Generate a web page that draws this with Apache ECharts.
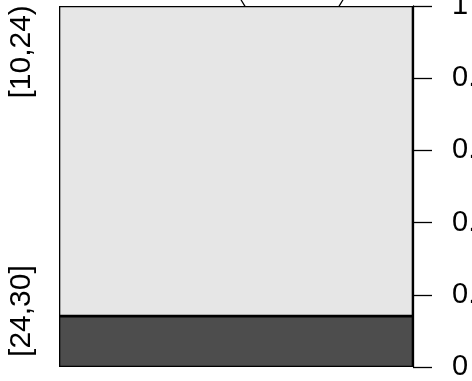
<!DOCTYPE html>
<html><head><meta charset="utf-8">
<script src="https://cdn.jsdelivr.net/npm/echarts@6/dist/echarts.min.js"></script>
<style>html,body{margin:0;padding:0;background:#fff}#c{width:472px;height:381px}</style>
</head><body><div id="c"></div>
<script>
var categories = ['all'];
var groupLabels = ['[24,30]', '[10,24)'];
var groupLabelPos = [0.155, 0.873];
var lowShare = [0.141];
var highShare = [0.859];
var tickValues = [0, 0.2, 0.4, 0.6, 0.8, 1];
var tickLabels = ['0', '0.2', '0.4', '0.6', '0.8', '1'];

var font = "'Liberation Sans', Arial, sans-serif";
var chart = echarts.init(document.getElementById('c'), null, {renderer: 'canvas'});
chart.setOption({
  animation: false,
  backgroundColor: '#ffffff',
  grid: {left: 59, right: 59, top: 6, bottom: 14, containLabel: false, outerBoundsMode: 'none'},
  xAxis: {type: 'category', data: categories, show: false, boundaryGap: true},
  yAxis: [{
    type: 'value', position: 'right', min: 0, max: 1, interval: 0.2,
    axisLine: {show: true, lineStyle: {color: '#000', width: 1.3}},
    axisTick: {show: true, length: 19, lineStyle: {color: '#000', width: 1.3}},
    axisLabel: {margin: 39, color: '#000', fontSize: 29, fontFamily: font,
      formatter: function (v) { var i = tickValues.indexOf(+v.toFixed(1)); return i >= 0 ? tickLabels[i] : ''; }},
    splitLine: {show: false}
  }, {
    type: 'value', position: 'left', min: 0, max: 1,
    axisLine: {show: false}, axisTick: {show: false}, splitLine: {show: false},
    axisLabel: {show: true, rotate: 90, margin: 22, color: '#000', fontSize: 30, fontFamily: font,
      customValues: groupLabelPos,
      formatter: function (v) { var i = groupLabelPos.indexOf(v); return i >= 0 ? groupLabels[i] : ''; }}
  }],
  graphic: [{
    type: 'circle', z: 0, shape: {cx: 292, cy: -25, r: 56.5},
    style: {fill: 'none', stroke: '#000', lineWidth: 1.3}
  }],
  series: [{
    type: 'bar', stack: 's', data: lowShare, barWidth: '100%', yAxisIndex: 0,
    itemStyle: {color: '#4d4d4d', borderColor: '#000', borderWidth: 1.3}
  }, {
    type: 'bar', stack: 's', data: highShare, barWidth: '100%', yAxisIndex: 0,
    itemStyle: {color: '#e6e6e6', borderColor: '#000', borderWidth: 1.3}
  }]
});
</script></body></html>
